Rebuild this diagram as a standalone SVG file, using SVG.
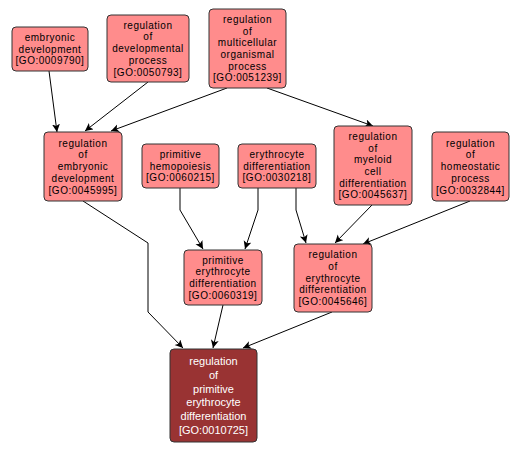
<svg xmlns="http://www.w3.org/2000/svg" width="521" height="453" viewBox="0 0 521 453">
<defs>
<marker id="arr" markerWidth="10" markerHeight="10" refX="8" refY="4" orient="auto" markerUnits="userSpaceOnUse">
<path d="M0,0 L8,4 L0,8 L2,4 z" fill="#000"/>
</marker>
<style>
.n rect{fill:#ff8c8c;stroke:#333;stroke-width:1}
.n text{font-family:"Liberation Sans",Arial,sans-serif;font-size:10px;letter-spacing:0.5px;fill:#000;text-anchor:middle}
.f rect{fill:#993333;stroke:#333;stroke-width:1}
.f text{font-family:"Liberation Sans",Arial,sans-serif;font-size:11px;fill:#fff;text-anchor:middle}
.e path{fill:none;stroke:#000;stroke-width:1;marker-end:url(#arr)}
</style>
</defs>
<rect width="521" height="453" fill="#fff"/>
<g id="edges" class="e">
<path d="M49,71 L57,132"/>
<path d="M148,82 L85,131"/>
<path d="M227,88 L111,131"/>
<path d="M267,88 L373,126"/>
<path d="M83,201 L148,243 L148,312 L183,348"/>
<path d="M180,188 L180,210 L203,249"/>
<path d="M258,188 L258,210 L245,249"/>
<path d="M296,188 L296,210 L306,243"/>
<path d="M372,205 L335,243"/>
<path d="M470,201 L363,244"/>
<path d="M223,305 L213,348"/>
<path d="M332,312 L243,348"/>
</g>
<g id="n_emb" class="n">
<rect x="12" y="27" width="76" height="44" rx="4"/>
<text x="50" y="40.9">embryonic</text>
<text x="50" y="52.6">development</text>
<text x="50" y="64.3">[GO:0009790]</text>
</g>
<g id="n_devproc" class="n">
<rect x="107" y="15" width="82" height="67" rx="4"/>
<text x="148" y="28.7">regulation</text>
<text x="148" y="40.4">of</text>
<text x="148" y="52.1">developmental</text>
<text x="148" y="63.8">process</text>
<text x="148" y="75.5">[GO:0050793]</text>
</g>
<g id="n_multi" class="n">
<rect x="209" y="9" width="77" height="79" rx="4"/>
<text x="247.5" y="22.9">regulation</text>
<text x="247.5" y="34.6">of</text>
<text x="247.5" y="46.3">multicellular</text>
<text x="247.5" y="58">organismal</text>
<text x="247.5" y="69.7">process</text>
<text x="247.5" y="81.4">[GO:0051239]</text>
</g>
<g id="n_regemb" class="n">
<rect x="44" y="132" width="78" height="69" rx="4"/>
<text x="83" y="146.7">regulation</text>
<text x="83" y="158.4">of</text>
<text x="83" y="170.1">embryonic</text>
<text x="83" y="181.8">development</text>
<text x="83" y="193.5">[GO:0045995]</text>
</g>
<g id="n_primhemo" class="n">
<rect x="142" y="144" width="77" height="44" rx="4"/>
<text x="180.5" y="157.9">primitive</text>
<text x="180.5" y="169.6">hemopoiesis</text>
<text x="180.5" y="181.3">[GO:0060215]</text>
</g>
<g id="n_erydiff" class="n">
<rect x="238" y="144" width="78" height="44" rx="4"/>
<text x="277" y="157.9">erythrocyte</text>
<text x="277" y="169.6">differentiation</text>
<text x="277" y="181.3">[GO:0030218]</text>
</g>
<g id="n_myeloid" class="n">
<rect x="334" y="126" width="78" height="79" rx="4"/>
<text x="373" y="139.9">regulation</text>
<text x="373" y="151.6">of</text>
<text x="373" y="163.3">myeloid</text>
<text x="373" y="175">cell</text>
<text x="373" y="186.7">differentiation</text>
<text x="373" y="198.4">[GO:0045637]</text>
</g>
<g id="n_homeo" class="n">
<rect x="432" y="132" width="77" height="69" rx="4"/>
<text x="470.5" y="146.7">regulation</text>
<text x="470.5" y="158.4">of</text>
<text x="470.5" y="170.1">homeostatic</text>
<text x="470.5" y="181.8">process</text>
<text x="470.5" y="193.5">[GO:0032844]</text>
</g>
<g id="n_primery" class="n">
<rect x="184" y="250" width="78" height="55" rx="4"/>
<text x="223" y="263.6">primitive</text>
<text x="223" y="275.3">erythrocyte</text>
<text x="223" y="287">differentiation</text>
<text x="223" y="298.7">[GO:0060319]</text>
</g>
<g id="n_regery" class="n">
<rect x="294" y="244" width="78" height="68" rx="4"/>
<text x="333" y="258.2">regulation</text>
<text x="333" y="269.9">of</text>
<text x="333" y="281.6">erythrocyte</text>
<text x="333" y="293.3">differentiation</text>
<text x="333" y="305">[GO:0045646]</text>
</g>
<g id="n_final" class="f">
<rect x="170" y="349" width="87" height="93" rx="4"/>
<text x="213.5" y="365">regulation</text>
<text x="213.5" y="378.8">of</text>
<text x="213.5" y="392.6">primitive</text>
<text x="213.5" y="406.4">erythrocyte</text>
<text x="213.5" y="420.2">differentiation</text>
<text x="213.5" y="434">[GO:0010725]</text>
</g>
</svg>
